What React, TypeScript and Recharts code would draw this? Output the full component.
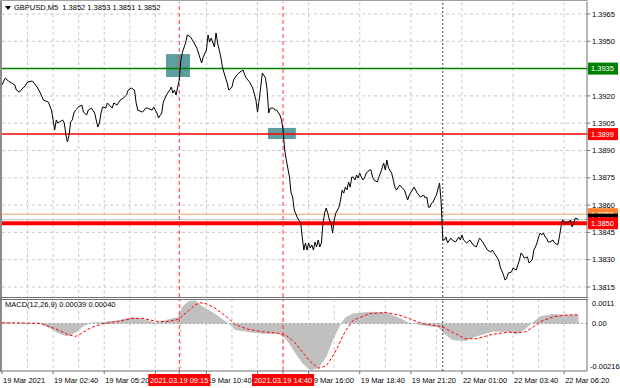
import React from 'react';
import {
  ComposedChart,
  Line,
  Area,
  XAxis,
  YAxis,
  CartesianGrid,
  ReferenceLine,
  ReferenceArea,
} from 'recharts';

const FONT = '"Liberation Sans", Arial, sans-serif';

// bar = number of the 5-minute bar counted from 19 Mar 2021 00:00 (weekend skipped)
const priceBars = [
  0, 2, 4, 6, 8, 9, 11, 13, 14, 16, 19, 22, 24, 26, 29, 31, 32, 33, 34, 35,
  38, 39, 40, 41, 42, 43, 44, 45, 46, 48, 50, 51, 53, 54, 56, 58, 60, 61, 62, 63,
  65, 66, 69, 70, 72, 74, 76, 78, 79, 81, 83, 84, 85, 88, 90, 91, 94, 95, 97, 98,
  100, 101, 103, 105, 106, 107, 108, 109, 110, 111, 112, 113, 115, 116, 118, 120, 122, 123, 125, 126,
  128, 129, 130, 131, 133, 134, 135, 137, 138, 140, 141, 142, 144, 145, 147, 149, 151, 152, 153, 155,
  157, 159, 160, 161, 162, 163, 165, 166, 167, 168, 170, 171, 172, 174, 175, 176, 177, 178, 180, 181,
  182, 183, 185, 187, 188, 189, 190, 191, 192, 193, 194, 195, 196, 197, 198, 199, 200, 201, 202, 203,
  204, 205, 206, 207, 208, 209, 210, 211, 212, 213, 214, 215, 216, 217, 218, 219, 220, 221, 222, 223,
  224, 225, 226, 227, 228, 229, 230, 231, 232, 233, 235, 236, 237, 239, 240, 241, 242, 244, 245, 246,
  247, 249, 250, 252, 253, 254, 255, 257, 258, 260, 261, 262, 264, 265, 266, 267, 268, 269, 270, 271,
  272, 274, 275, 276, 277, 278, 279, 281, 282, 284, 286, 287, 288, 289, 291, 293, 295, 297, 299, 301,
  304, 306, 307, 309, 311, 312, 314, 315, 316, 317, 319, 320, 322, 323, 324, 325, 326, 327, 329, 330,
  332, 333, 334, 335, 336, 337, 338, 339, 340, 341, 342, 343, 345, 346, 348, 349, 350, 351, 353, 354,
  355, 356, 357, 358, 359, 361,
];

const priceCloses = [
  1.3926, 1.39298, 1.39282, 1.39271, 1.3926, 1.39232, 1.39221, 1.39243, 1.39249, 1.39276, 1.39282, 1.39249, 1.39216, 1.39177, 1.39166, 1.39122, 1.39068, 1.39013, 1.39068, 1.39051,
  1.39068, 1.39051, 1.38985, 1.38947, 1.38985, 1.39057, 1.39068, 1.39106, 1.39122, 1.39139, 1.3915, 1.39111, 1.39095, 1.39122, 1.39133, 1.39106, 1.39029, 1.39051, 1.39106, 1.39139,
  1.39133, 1.39161, 1.39133, 1.39161, 1.3915, 1.39177, 1.39188, 1.39205, 1.39232, 1.39243, 1.39232, 1.39161, 1.39122, 1.39111, 1.39133, 1.39133, 1.39122, 1.39139, 1.39106, 1.39079,
  1.39106, 1.39166, 1.39205, 1.39232, 1.39249, 1.39216, 1.39232, 1.39205, 1.39249, 1.39287, 1.39397, 1.39441, 1.39491, 1.39535, 1.39524, 1.39496, 1.39463, 1.39436, 1.39381, 1.39414,
  1.39452, 1.39535, 1.39496, 1.39518, 1.39469, 1.39546, 1.39491, 1.39414, 1.39359, 1.39298, 1.39271, 1.39232, 1.39249, 1.39287, 1.39315, 1.39331, 1.39342, 1.39315, 1.39298, 1.39276,
  1.39243, 1.39177, 1.39111, 1.39177, 1.39249, 1.39326, 1.39298, 1.39232, 1.39106, 1.39133, 1.39133, 1.39122, 1.39122, 1.39095, 1.39068, 1.39013, 1.38903, 1.38848, 1.38754, 1.38666,
  1.38644, 1.38573, 1.38529, 1.38502, 1.38425, 1.38353, 1.38392, 1.38353, 1.38392, 1.38364, 1.38381, 1.38353, 1.38397, 1.3837, 1.38408, 1.3837, 1.38392, 1.38502, 1.38556, 1.38584,
  1.38556, 1.38518, 1.38502, 1.38447, 1.38518, 1.38556, 1.38573, 1.38589, 1.38628, 1.38683, 1.38666, 1.38699, 1.38683, 1.38727, 1.38699, 1.38754, 1.38754, 1.38738, 1.38765, 1.38749,
  1.38776, 1.38754, 1.38738, 1.38749, 1.38776, 1.38782, 1.38793, 1.38793, 1.38754, 1.38738, 1.38727, 1.38754, 1.38776, 1.38831, 1.38793, 1.38848, 1.38804, 1.38776, 1.38738, 1.38699,
  1.38683, 1.3871, 1.38699, 1.38683, 1.38655, 1.38628, 1.38655, 1.38683, 1.38699, 1.38666, 1.38655, 1.38644, 1.38655, 1.38639, 1.38644, 1.38589, 1.38589, 1.38611, 1.38617, 1.38639,
  1.38655, 1.38721, 1.38611, 1.38408, 1.38408, 1.38425, 1.38392, 1.38419, 1.38408, 1.38397, 1.38425, 1.38408, 1.38436, 1.38408, 1.38392, 1.38408, 1.38381, 1.3837, 1.38419, 1.38397,
  1.38353, 1.38342, 1.38353, 1.38326, 1.38298, 1.3826, 1.38216, 1.38188, 1.38199, 1.38227, 1.38232, 1.38254, 1.38243, 1.38271, 1.38298, 1.38337, 1.38326, 1.38309, 1.38315, 1.38282,
  1.38298, 1.38353, 1.3837, 1.38392, 1.38425, 1.38447, 1.38436, 1.38447, 1.38425, 1.38419, 1.38397, 1.38397, 1.38408, 1.38392, 1.38381, 1.38425, 1.3848, 1.38518, 1.38502, 1.38507,
  1.38507, 1.38518, 1.3848, 1.38502, 1.38529, 1.3852,
];

const macdBars = [
  0, 14, 24, 31, 36, 41, 46, 51, 56, 63, 73, 81, 88, 96, 103, 110, 113, 117, 121, 124,
  128, 133, 138, 142, 146, 153, 163, 173, 178, 183, 188, 193, 198, 203, 208, 212, 215, 220, 230, 240,
  248, 255, 263, 273, 277, 282, 290, 297, 307, 317, 322, 327, 332, 337, 345, 352, 361,
];

const macdHist = [
  0.00003, 0.00002, -0.00002, -0.00027, -0.00047, -0.0006, -0.00043, -0.00013, 0.00003, 0.00007,
  0.00015, 0.00028, 0.00023, 0.00003, 0.00017, 0.00028, 0.00078, 0.00103, 0.00106, 0.00086,
  0.00067, 0.00045, 0.0002, 0.0, -0.0003, -0.00038, -0.00047, -0.00047, -0.00072, -0.0013,
  -0.00183, -0.00216, -0.00205, -0.00155, -0.00063, -0.00005, 0.00028, 0.00045, 0.00053, 0.0005,
  0.00028, 0.00003, -0.0001, -0.00017, -0.00047, -0.00077, -0.0008, -0.0006, -0.00038, -0.00038,
  -0.0005, -0.0003, 0.00003, 0.00033, 0.00043, 0.0004, 0.00039,
];

const macdSignal = [
  0.00003, 0.00002, 0.0, -0.00018, -0.00032, -0.0005, -0.0006, -0.0004, -0.00018, -0.00002,
  0.0001, 0.00022, 0.00024, 0.0001, 0.00008, 0.00018, 0.00035, 0.0006, 0.00085, 0.00095,
  0.0009, 0.00072, 0.00045, 0.00022, -0.00005, -0.00025, -0.00038, -0.00045, -0.00055, -0.00085,
  -0.0013, -0.00175, -0.00205, -0.00195, -0.0014, -0.0008, -0.00035, 0.00015, 0.00045, 0.0005,
  0.0004, 0.00022, 0.0, -0.00012, -0.0002, -0.0004, -0.0007, -0.0007, -0.0005, -0.0004,
  -0.00042, -0.0004, -0.0002, 0.00008, 0.0003, 0.00038, 0.0004,
];

const priceTicks = [1.3815, 1.383, 1.3845, 1.386, 1.3875, 1.389, 1.3905, 1.392, 1.3935, 1.395, 1.3965];
const gridBars = [16, 32, 48, 64, 80, 96, 112, 128, 144, 160, 176, 192, 208, 224, 240, 256, 272, 288, 304, 320, 336, 352];
const timeBars = [0, 32, 64, 96, 128, 160, 192, 224, 256, 288, 320, 352];
const timeLabels = [
  '19 Mar 2021', '19 Mar 02:40', '19 Mar 05:20', '19 Mar 08:00', '19 Mar 10:40', '19 Mar 13:20',
  '19 Mar 16:00', '19 Mar 18:40', '19 Mar 21:20', '22 Mar 01:00', '22 Mar 03:40', '22 Mar 06:20',
];
const macdTicks = [0.0011, 0, -0.00216];
const macdTickLabels = ['0.0011', '0.00', '-0.00216'];

const markBars = [111, 176];
const markLabels = ['2021.03.19 09:15', '2021.03.19 14:40'];
const separatorBar = 276;

const targetLevel = 1.3935;
const resistLevel = 1.3899;
const entryLevel = 1.3855;
const bidPrice = 1.3852;
const supportLevel = 1.385;
// drawn last-to-top on the price scale
const tagLevels = [targetLevel, resistLevel, entryLevel, bidPrice, supportLevel];
const tagFills = ['#008000', '#ff0000', '#ff7f2a', '#000000', '#ff0000'];

const zoneBars = [[102.7, 117.7], [166.5, 184]];
const zonePrices = [[1.39304, 1.3943], [1.38963, 1.39024]];

const X_DOMAIN: [number, number] = [0, 366.3];
const PRICE_DOMAIN: [number, number] = [1.38095, 1.39716];
const MACD_DOMAIN: [number, number] = [-0.00218, 0.00112];

const PriceTick = (props: any) => {
  const { x, y, payload, index } = props;
  if (index >= priceTicks.length) {
    const k = index - priceTicks.length;
    return (
      <g>
        <rect x={x - 4} y={y - 6} width={30} height={12} fill={tagFills[k]} />
        <text x={x - 1} y={y} dy={2.7} fill="#fff" fontSize={7.5} fontFamily={FONT}>
          {tagLevels[k].toFixed(4)}
        </text>
      </g>
    );
  }
  return (
    <text x={x} y={y} dy={2.7} fontSize={7.5} fontFamily={FONT} fill="#000" textAnchor="start">
      {payload.value.toFixed(4)}
    </text>
  );
};

const MacdTick = (props: any) => {
  const { x, y, payload } = props;
  const i = macdTicks.indexOf(payload.value);
  const shift = payload.value > 0 ? 4 : payload.value < 0 ? -4 : 0;
  return (
    <text
      x={payload.value < 0 ? x - 2 : x}
      y={y + shift}
      dy={2.7}
      fontSize={7.5}
      fontFamily={FONT}
      fill="#000"
      textAnchor="start"
    >
      {macdTickLabels[i]}
    </text>
  );
};

const TimeTick = (props: any) => {
  const { x, y, payload, index } = props;
  if (index >= timeBars.length) {
    const m = markBars.indexOf(payload.value);
    return (
      <g>
        <rect x={x - 31} y={y - 2} width={62} height={12} fill="#ff0000" />
        <text x={x} y={y + 4} dy={2.7} textAnchor="middle" fill="#fff" fontSize={7.5} fontFamily={FONT}>
          {markLabels[m]}
        </text>
      </g>
    );
  }
  const i = timeBars.indexOf(payload.value);
  return (
    <text x={x + 1} y={y} dy={6.5} fontSize={7.5} fontFamily={FONT} fill="#000" textAnchor="start">
      {timeLabels[i]}
    </text>
  );
};

export default function App() {
  const priceData = priceBars.map((bar, i) => ({ bar, price: priceCloses[i] }));
  const macdData = macdBars.map((bar, i) => ({ bar, hist: macdHist[i], signal: macdSignal[i] }));

  return (
    <div
      style={{
        position: 'absolute',
        left: 0,
        top: 0,
        width: 620,
        height: 388,
        background: '#fff',
        overflow: 'hidden',
        fontFamily: FONT,
      }}
    >
      {/* main window */}
      <div style={{ position: 'absolute', left: 0, top: 0 }}>
        <ComposedChart width={620} height={299} data={priceData} margin={{ top: 2, right: 0, bottom: 2, left: 2 }}>
          <CartesianGrid
            stroke="#c8c8c8"
            strokeDasharray="3 3"
            verticalValues={gridBars}
            horizontalValues={priceTicks}
          />
          <XAxis type="number" dataKey="bar" domain={X_DOMAIN} hide allowDataOverflow />
          <YAxis
            orientation="right"
            width={33}
            domain={PRICE_DOMAIN}
            ticks={[...priceTicks, ...tagLevels]}
            interval={0}
            tick={<PriceTick />}
            tickSize={3}
            axisLine={{ stroke: '#707070' }}
            tickLine={{ stroke: '#707070' }}
            allowDataOverflow
          />
          {zoneBars.map((z, i) => (
            <ReferenceArea
              key={'z' + i}
              x1={z[0]}
              x2={z[1]}
              y1={zonePrices[i][0]}
              y2={zonePrices[i][1]}
              fill="#5f9ea0"
              fillOpacity={1}
              stroke="none"
            />
          ))}
          <ReferenceLine y={targetLevel} stroke="#008000" strokeWidth={1.5} />
          <ReferenceLine y={resistLevel} stroke="#ff0000" strokeWidth={1.5} />
          <ReferenceLine y={entryLevel} stroke="#f4a060" strokeWidth={1} />
          <ReferenceLine y={bidPrice} stroke="#c0c0c0" strokeWidth={1} />
          <ReferenceLine y={supportLevel} stroke="#ff0000" strokeWidth={4} />
          {markBars.map((b) => (
            <ReferenceLine key={'m' + b} x={b} stroke="#ff3333" strokeDasharray="4 3" />
          ))}
          <ReferenceLine x={separatorBar} stroke="#404040" strokeDasharray="2 2" />
          <Line
            type="linear"
            dataKey="price"
            stroke="#000"
            strokeWidth={1}
            dot={false}
            isAnimationActive={false}
          />
        </ComposedChart>
      </div>

      {/* MACD window */}
      <div style={{ position: 'absolute', left: 0, top: 299 }}>
        <ComposedChart width={620} height={89} data={macdData} margin={{ top: 0, right: 0, bottom: 0, left: 2 }}>
          <CartesianGrid stroke="#c8c8c8" strokeDasharray="3 3" verticalValues={gridBars} horizontal={false} />
          <XAxis
            type="number"
            dataKey="bar"
            domain={X_DOMAIN}
            ticks={[...timeBars, ...markBars]}
            interval={0}
            height={17}
            tick={<TimeTick />}
            tickSize={3}
            axisLine={{ stroke: '#707070' }}
            tickLine={{ stroke: '#707070' }}
            allowDataOverflow
          />
          <YAxis
            orientation="right"
            width={33}
            domain={MACD_DOMAIN}
            ticks={macdTicks}
            interval={0}
            tick={<MacdTick />}
            tickSize={3}
            axisLine={{ stroke: '#707070' }}
            tickLine={false}
            allowDataOverflow
          />
          <ReferenceLine y={0} stroke="#a0a0a0" strokeDasharray="2 2" />
          <Area
            type="linear"
            dataKey="hist"
            baseValue={0}
            fill="#c0c0c0"
            fillOpacity={1}
            stroke="none"
            isAnimationActive={false}
          />
          <Line
            type="linear"
            dataKey="signal"
            stroke="#ff0000"
            strokeWidth={1}
            strokeDasharray="3 2"
            dot={false}
            isAnimationActive={false}
          />
          <ReferenceLine x={separatorBar} stroke="#404040" strokeDasharray="2 2" />
          {markBars.map((b) => (
            <ReferenceLine key={'d' + b} x={b} stroke="#ff3333" strokeDasharray="4 3" />
          ))}
        </ComposedChart>
      </div>

      {/* window frames */}
      <div style={{ position: 'absolute', left: 0, top: 0, width: 2, height: 372, background: '#8c8c8c' }} />
      <div style={{ position: 'absolute', left: 0, top: 0, width: 588, height: 1, background: '#a0a0a0' }} />
      <div style={{ position: 'absolute', left: 0, top: 297, width: 588, height: 1, background: '#707070' }} />
      <div style={{ position: 'absolute', left: 0, top: 299, width: 588, height: 1, background: '#707070' }} />

      {/* titles */}
      <div
        style={{
          position: 'absolute',
          left: 5,
          top: 6,
          width: 0,
          height: 0,
          borderLeft: '3px solid transparent',
          borderRight: '3px solid transparent',
          borderTop: '4px solid #000',
        }}
      />
      <div style={{ position: 'absolute', left: 14, top: 3, fontSize: 7.5, lineHeight: '9px', color: '#000', whiteSpace: 'pre' }}>
        GBPUSD,M5  1.3852 1.3853 1.3851 1.3852
      </div>
      <div style={{ position: 'absolute', left: 5, top: 300, fontSize: 7.5, lineHeight: '9px', color: '#000', whiteSpace: 'pre' }}>
        MACD(12,26,9) 0.00039 0.00040
      </div>
    </div>
  );
}
